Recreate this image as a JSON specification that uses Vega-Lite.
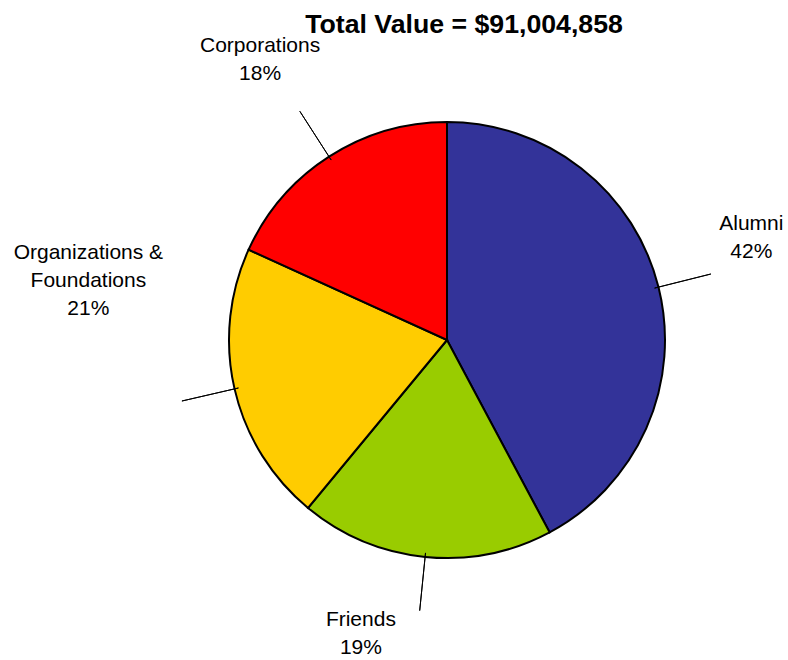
{
  "$schema": "https://vega.github.io/schema/vega-lite/v6.json",
  "autosize": "none",
  "width": 400,
  "height": 400,
  "padding": {"left": 247, "top": 140, "right": 141, "bottom": 120},
  "background": "white",
  "config": {"view": {"stroke": null}, "font": "Liberation Sans"},
  "title": {
    "text": "Total Value = $91,004,858",
    "font": "Liberation Sans",
    "fontSize": 26.7,
    "fontWeight": "bold",
    "color": "black",
    "anchor": "middle",
    "baseline": "alphabetic",
    "dx": 17,
    "offset": -25
  },
  "data": {
    "values": [
      {"category": "Alumni", "share": 0.422, "order": 1},
      {"category": "Friends", "share": 0.188, "order": 2},
      {"category": "Organizations & Foundations", "share": 0.208, "order": 3},
      {"category": "Corporations", "share": 0.182, "order": 4}
    ]
  },
  "transform": [
    {"stack": "share", "groupby": [], "sort": [{"field": "order", "order": "ascending"}], "as": ["s0", "s1"]},
    {"calculate": "(datum.s0 + datum.s1) / 2", "as": "mid"},
    {"calculate": "replace(datum.category, ' & ', ' &\\n') + '\\n' + format(datum.share, '.0%')", "as": "label"}
  ],
  "layer": [
    {
      "mark": {"type": "arc", "outerRadius": 218, "stroke": "black", "strokeWidth": 2},
      "encoding": {
        "theta": {"field": "s0", "type": "quantitative", "stack": null, "scale": {"domain": [0, 1]}},
        "theta2": {"field": "s1"},
        "color": {
          "field": "category",
          "type": "nominal",
          "scale": {
            "domain": ["Alumni", "Friends", "Organizations & Foundations", "Corporations"],
            "range": ["#333399", "#99CC00", "#FFCC00", "#FF0000"]
          },
          "legend": null
        }
      }
    },
    {
      "mark": {"type": "arc", "radius": 272, "radius2": 214, "stroke": "black", "strokeWidth": 1, "fill": null},
      "encoding": {
        "theta": {"field": "mid", "type": "quantitative", "stack": null},
        "theta2": {"field": "mid"}
      }
    },
    {
      "transform": [{"filter": "datum.category === 'Alumni'"}],
      "mark": {"type": "text", "radius": 290, "dx": 23, "dy": -46, "lineBreak": "\n", "lineHeight": 28, "fontSize": 21, "align": "center", "baseline": "middle", "color": "black"},
      "encoding": {"theta": {"field": "mid", "type": "quantitative", "stack": null}, "text": {"field": "label"}}
    },
    {
      "transform": [{"filter": "datum.category === 'Friends'"}],
      "mark": {"type": "text", "radius": 290, "dx": -57, "dy": -9, "lineBreak": "\n", "lineHeight": 28, "fontSize": 21, "align": "center", "baseline": "middle", "color": "black"},
      "encoding": {"theta": {"field": "mid", "type": "quantitative", "stack": null}, "text": {"field": "label"}}
    },
    {
      "transform": [{"filter": "datum.category === 'Organizations & Foundations'"}],
      "mark": {"type": "text", "radius": 290, "dx": -76, "dy": -152, "lineBreak": "\n", "lineHeight": 28, "fontSize": 21, "align": "center", "baseline": "middle", "color": "black"},
      "encoding": {"theta": {"field": "mid", "type": "quantitative", "stack": null}, "text": {"field": "label"}}
    },
    {
      "transform": [{"filter": "datum.category === 'Corporations'"}],
      "mark": {"type": "text", "radius": 290, "dx": -30, "dy": -50, "lineBreak": "\n", "lineHeight": 28, "fontSize": 21, "align": "center", "baseline": "middle", "color": "black"},
      "encoding": {"theta": {"field": "mid", "type": "quantitative", "stack": null}, "text": {"field": "label"}}
    }
  ]
}
